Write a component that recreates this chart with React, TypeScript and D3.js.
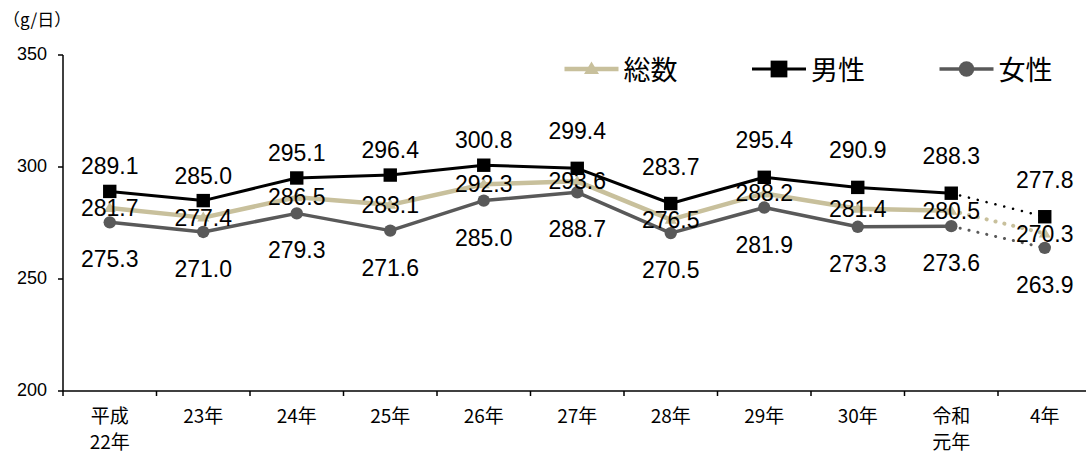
import React from "react";
import * as d3 from "d3";

const categories: string[][] = [["平成", "22年"], ["23年"], ["24年"], ["25年"], ["26年"], ["27年"], ["28年"], ["29年"], ["30年"], ["令和", "元年"], ["4年"]];
const totalValues = [281.7, 277.4, 286.5, 283.1, 292.3, 293.6, 276.5, 288.2, 281.4, 280.5, 270.3];
const maleValues = [289.1, 285.0, 295.1, 296.4, 300.8, 299.4, 283.7, 295.4, 290.9, 288.3, 277.8];
const femaleValues = [275.3, 271.0, 279.3, 271.6, 285.0, 288.7, 270.5, 281.9, 273.3, 273.6, 263.9];
const yTicks = [200, 250, 300, 350];
const seriesNames = ["総数", "男性", "女性"];

const W = 1086, H = 454;
const FONT = "'Liberation Sans', Arial, sans-serif";
const JFONT = "'Noto Sans CJK JP', sans-serif";

export default function App() {
  const idx = categories.map((_, i) => i);
  const x = d3.scaleBand<number>().domain(idx).range([63, 63 + 11 * 93.5]).padding(0);
  const cx = (i: number) => (x(i) as number) + x.bandwidth() / 2;
  const y = d3.scaleLinear().domain([200, 350]).range([391, 55]);

  const series = [
    { name: seriesNames[0], values: totalValues, color: "#c8c09c", width: 4.5, marker: "tri" },
    { name: seriesNames[1], values: maleValues, color: "#000000", width: 3, marker: "sq" },
    { name: seriesNames[2], values: femaleValues, color: "#595959", width: 3.5, marker: "circ" },
  ];
  const line = d3.line<number>().x((_, i) => cx(i)).y((v) => y(v));
  const n = categories.length;

  const marker = (type: string, px: number, py: number, color: string, key: string, s = 1) => {
    if (type === "sq") return <rect key={key} x={px - 6.7 * s} y={py - 6.7 * s} width={13.4 * s} height={13.4 * s} fill={color} />;
    if (type === "circ") return <circle key={key} cx={px} cy={py} r={6.2 * s} fill={color} />;
    return <path key={key} d={`M${px},${py - 6 * s}L${px + 6 * s},${py + 4 * s}L${px - 6 * s},${py + 4 * s}Z`} fill={color} />;
  };

  const legend = [
    { s: series[0], x0: 564.5 },
    { s: series[1], x0: 752 },
    { s: series[2], x0: 939.5 },
  ];

  // Label lifts above the male markers (left half placed closer than right half)
  const maleLift = (i: number) => (i < 5 ? 17 : 29);

  return (
    <div style={{ position: "fixed", left: 0, top: 0 }}>
      <svg width={W} height={H} style={{ display: "block", background: "#fff" }}>
        <text x={3} y={26} fontFamily={JFONT} fontSize={17} fill="#000">（g/日）</text>
        {/* y axis */}
        <line x1={63} x2={63} y1={y(350)} y2={y(200)} stroke="#000" strokeWidth={1.5} />
        {yTicks.map((t) => (
          <g key={t}>
            <line x1={58} x2={63} y1={y(t)} y2={y(t)} stroke="#000" strokeWidth={1.5} />
            <text x={47} y={y(t) + 5} textAnchor="end" fontFamily={FONT} fontSize={18} fill="#000">{t}</text>
          </g>
        ))}
        {/* x axis */}
        <line x1={63} x2={W} y1={y(200)} y2={y(200)} stroke="#000" strokeWidth={1.5} />
        {idx.map((i) => (
          <line key={i} x1={(x(i) as number)} x2={(x(i) as number)} y1={y(200)} y2={y(200) + 5} stroke="#000" strokeWidth={1.5} />
        ))}
        {categories.map((c, i) => (
          <text key={i} x={cx(i)} y={423} textAnchor="middle" fontFamily={JFONT} fontSize={19} fill="#000">
            {c.map((l, j) => (
              <tspan key={j} x={cx(i)} dy={j === 0 ? 0 : 26}>{l}</tspan>
            ))}
          </text>
        ))}
        {/* lines */}
        {series.map((s) => (
          <g key={s.name}>
            <path d={line(s.values.slice(0, n - 1)) || ""} fill="none" stroke={s.color} strokeWidth={s.width} strokeLinejoin="round" />
            <line x1={cx(n - 2)} y1={y(s.values[n - 2])} x2={cx(n - 1)} y2={y(s.values[n - 1])} stroke={s.color} strokeWidth={s.width - 0.5} strokeDasharray="0.1 9" strokeLinecap="round" />
          </g>
        ))}
        {series.map((s) => s.values.map((v, i) => marker(s.marker, cx(i), y(v), s.color, s.name + i)))}
        {/* labels */}
        {maleValues.map((v, i) => (
          <text key={"m" + i} x={cx(i)} y={y(v) - maleLift(i)} textAnchor="middle" fontFamily={FONT} fontSize={23} fill="#000">{v.toFixed(1)}</text>
        ))}
        {totalValues.map((v, i) => (
          <text key={"t" + i} x={cx(i)} y={y(v) + 8} textAnchor="middle" fontFamily={FONT} fontSize={23} fill="#000">{v.toFixed(1)}</text>
        ))}
        {femaleValues.map((v, i) => (
          <text key={"f" + i} x={cx(i)} y={y(v) + 45} textAnchor="middle" fontFamily={FONT} fontSize={23} fill="#000">{v.toFixed(1)}</text>
        ))}
        {/* legend */}
        {legend.map(({ s, x0 }) => (
          <g key={s.name}>
            <line x1={x0} x2={x0 + 54} y1={69} y2={69} stroke={s.color} strokeWidth={s.width} />
            {marker(s.marker, x0 + 27, 69, s.color, "l" + s.name, 1.25)}
            <text x={x0 + 59} y={80} fontFamily={JFONT} fontSize={27} fill="#000">{s.name}</text>
          </g>
        ))}
      </svg>
    </div>
  );
}
